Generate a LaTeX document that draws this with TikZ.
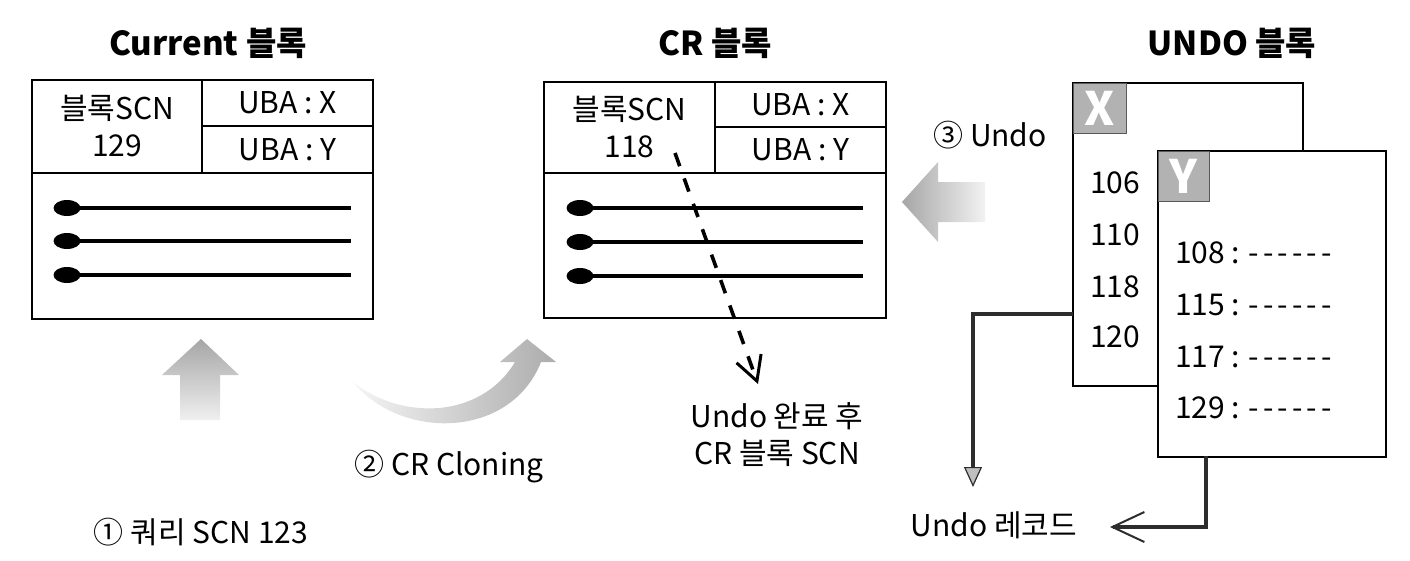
\documentclass[tikz,border=0pt]{standalone}
\usepackage{fontspec}
\setmainfont{Noto Sans CJK KR}
\usetikzlibrary{arrows.meta,calc}
\newcommand\dashrow{-\kern4pt-\kern4pt-\kern4pt-\kern4pt-\kern4pt-}
\begin{document}
\begin{tikzpicture}[x=1pt,y=-1pt,
  every node/.style={font=\fontsize{30}{37}\selectfont, inner sep=0pt, outer sep=0pt},
  title/.style={font=\fontsize{33}{40}\selectfont\bfseries},
  cell/.style={draw=black, line width=1.6pt, anchor=north west, align=center},
  stick/.style={line width=3.4pt},
  dot/.style={fill=black},
  undobox/.style={draw=black, line width=1.6pt, anchor=north west, fill=white},
  tag/.style={fill=gray!60, draw=gray!70!black, line width=0.6pt, anchor=north west, text=white,
    font=\fontsize{46}{46}\selectfont\bfseries},
  grayline/.style={draw=gray!35!black, line width=3.4pt}
]
\useasboundingbox (0,0) rectangle (1410,560);

% titles
\node[title] (tcur) at (208,43) {Current 블록};
\node[title] (tcr) at (715,43) {CR 블록};
\node[title] (tundo) at (1232,43) {UNDO 블록};

% Current block
\node[cell, minimum width=170pt, minimum height=93pt] (curscn) at (32,80) {블록SCN\\129};
\node[cell, minimum width=171pt, minimum height=46pt] (curx) at (202,80) {UBA : X};
\node[cell, minimum width=171pt, minimum height=47pt] (cury) at (202,126) {UBA : Y};
\node[cell, minimum width=341pt, minimum height=146pt] (curbody) at (32,173) {};
\foreach \yy in {208,241,275}{
  \draw[stick] (67,\yy) -- (351,\yy);
  \fill[dot] (67,\yy) ellipse [x radius=13.5pt, y radius=8pt];
}

% CR block
\node[cell, minimum width=171pt, minimum height=91pt] (crscn) at (544,82) {블록SCN\\118};
\node[cell, minimum width=171pt, minimum height=45pt] (crx) at (715,82) {UBA : X};
\node[cell, minimum width=171pt, minimum height=46pt] (cry) at (715,127) {UBA : Y};
\node[cell, minimum width=342pt, minimum height=145pt] (crbody) at (544,173) {};
\foreach \yy in {208,242,276}{
  \draw[stick] (580,\yy) -- (863,\yy);
  \fill[dot] (580,\yy) ellipse [x radius=13.5pt, y radius=8pt];
}

% dashed arrow
\coordinate (dstart) at (675,153);
\coordinate (dend) at (758,384);
\draw[line width=3.6pt, dash pattern=on 14pt off 13pt,
  -{Straight Barb[length=24pt,width=26pt,line width=3pt]}] (dstart) -- (dend);
\node[align=center] (donelbl) at (777,435) {Undo 완료 후\\CR 블록 SCN};

% UNDO blocks
\node[undobox, minimum width=230pt, minimum height=303pt] (xbox) at (1073,83) {};
\node[tag, minimum width=53pt, minimum height=50pt] (xtag) at (1073,83) {X};
\node[anchor=west] (x106) at (1090,183) {106};
\node[anchor=west] (x110) at (1090,235) {110};
\node[anchor=west] (x118) at (1090,287) {118};
\node[anchor=west] (x120) at (1090,337) {120};

\node[undobox, minimum width=228pt, minimum height=306pt] (ybox) at (1158,151) {};
\node[tag, minimum width=51pt, minimum height=50pt] (ytag) at (1158,151) {Y};
\node[anchor=west] (y108) at (1175,253) {108 : \dashrow};
\node[anchor=west] (y115) at (1175,305) {115 : \dashrow};
\node[anchor=west] (y117) at (1175,357) {117 : \dashrow};
\node[anchor=west] (y129) at (1175,408) {129 : \dashrow};

% undo record connectors
\node (rec) at (994,525) {Undo 레코드};
\coordinate (xout) at (1073,314);
\coordinate (xdown) at (973,487);
\coordinate (yout) at (1206,456);
\coordinate (recend) at (1110,527);
\draw[grayline, -{Triangle[length=20pt,width=18pt,fill=gray!50,line width=1.2pt]}] (xout) -| (xdown);
\draw[grayline, -{Straight Barb[length=32pt,width=30pt,line width=2pt]}] (yout) |- (recend);

% labels
\node (undolbl) at (990,135) {③ Undo};
\node (clonelbl) at (449,467) {② CR Cloning};
\node (querylbl) at (201,532) {① 쿼리 SCN 123};

% fading arrows
\path[top color=gray!70, bottom color=gray!12]
  (201,339) -- (239,375) -- (220,375) -- (220,420) -- (180,420) -- (180,375) -- (162,375) -- cycle;
\path[left color=gray!70, right color=gray!10]
  (902,202) -- (938,162) -- (938,182) -- (985,182) -- (985,222) -- (938,222) -- (938,242) -- cycle;
\path[left color=gray!8, right color=gray!65]
  (353,382) .. controls (400,420) and (480,420) .. (515,362)
  -- (500,362) -- (527,339) -- (556,362) -- (541,362)
  .. controls (510,440) and (400,440) .. (353,382) -- cycle;
\end{tikzpicture}
\end{document}
